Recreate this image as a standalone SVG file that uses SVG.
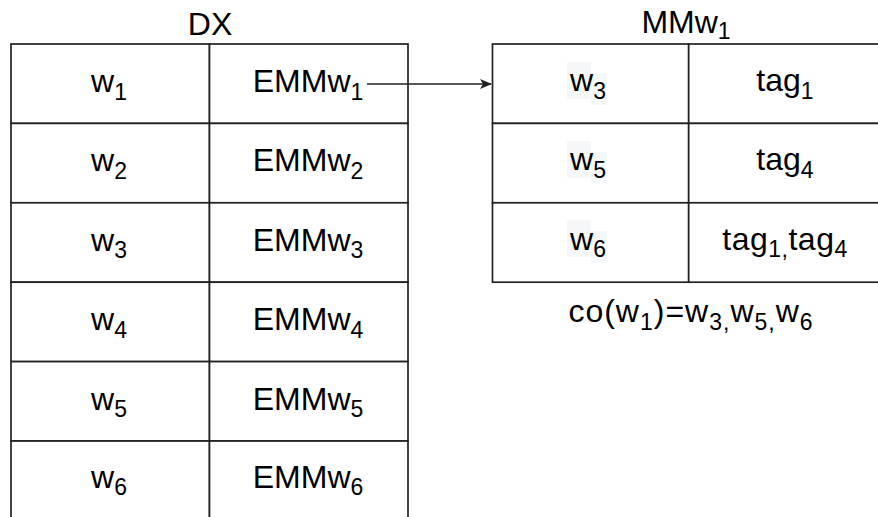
<svg xmlns="http://www.w3.org/2000/svg" width="878" height="517" viewBox="0 0 878 517">
  <defs>
    <style>
      .cell { fill: #ffffff; stroke: #222222; stroke-width: 1.7; }
      .lbl { font-family: "Liberation Sans", Arial, sans-serif; font-size: 32px; fill: #000000; text-anchor: middle; }
      .sub { font-size: 23px; }
      .wide { letter-spacing: 1px; }
      .edge { fill: none; stroke: #222222; stroke-width: 1.3; }
      .hl { fill: #f6f7f8; }
    </style>
    <marker id="arrow" viewBox="0 0 12 10" refX="11" refY="5" markerWidth="12" markerHeight="10" markerUnits="userSpaceOnUse" orient="auto">
      <path d="M0,0 L12,5 L0,10 L3,5 Z" fill="#222222"/>
    </marker>
  </defs>

  <rect width="878" height="517" fill="#ffffff"/>

  <!-- DX table -->
  <g id="dx">
    <text class="lbl" x="210" y="35">DX</text>
    <g id="dx-r1">
      <rect class="cell" x="11" y="44" width="198.5" height="79.4"/>
      <rect class="cell" x="209.5" y="44" width="198.5" height="79.4"/>
      <text class="lbl" x="109" y="92">w<tspan class="sub" dy="7.5">1</tspan></text>
      <text class="lbl" x="308" y="92">EMMw<tspan class="sub" dy="7.5">1</tspan></text>
    </g>
    <g id="dx-r2">
      <rect class="cell" x="11" y="123.4" width="198.5" height="79.4"/>
      <rect class="cell" x="209.5" y="123.4" width="198.5" height="79.4"/>
      <text class="lbl" x="109" y="171.4">w<tspan class="sub" dy="7.5">2</tspan></text>
      <text class="lbl" x="308" y="171.4">EMMw<tspan class="sub" dy="7.5">2</tspan></text>
    </g>
    <g id="dx-r3">
      <rect class="cell" x="11" y="202.8" width="198.5" height="79.4"/>
      <rect class="cell" x="209.5" y="202.8" width="198.5" height="79.4"/>
      <text class="lbl" x="109" y="250.8">w<tspan class="sub" dy="7.5">3</tspan></text>
      <text class="lbl" x="308" y="250.8">EMMw<tspan class="sub" dy="7.5">3</tspan></text>
    </g>
    <g id="dx-r4">
      <rect class="cell" x="11" y="282.2" width="198.5" height="79.4"/>
      <rect class="cell" x="209.5" y="282.2" width="198.5" height="79.4"/>
      <text class="lbl" x="109" y="330.2">w<tspan class="sub" dy="7.5">4</tspan></text>
      <text class="lbl" x="308" y="330.2">EMMw<tspan class="sub" dy="7.5">4</tspan></text>
    </g>
    <g id="dx-r5">
      <rect class="cell" x="11" y="361.6" width="198.5" height="79.4"/>
      <rect class="cell" x="209.5" y="361.6" width="198.5" height="79.4"/>
      <text class="lbl" x="109" y="409.6">w<tspan class="sub" dy="7.5">5</tspan></text>
      <text class="lbl" x="308" y="409.6">EMMw<tspan class="sub" dy="7.5">5</tspan></text>
    </g>
    <g id="dx-r6">
      <rect class="cell" x="11" y="441" width="198.5" height="79.4"/>
      <rect class="cell" x="209.5" y="441" width="198.5" height="79.4"/>
      <text class="lbl" x="109" y="487.5">w<tspan class="sub" dy="7.5">6</tspan></text>
      <text class="lbl" x="308" y="487.5">EMMw<tspan class="sub" dy="7.5">6</tspan></text>
    </g>
  </g>

  <!-- MMw1 table -->
  <g id="mmw1">
    <text class="lbl" x="686" y="32.5">MMw<tspan class="sub" dy="6">1</tspan></text>
    <g id="mm-r1">
      <rect class="cell" x="492.5" y="44" width="196.2" height="79.4"/>
      <rect class="cell" x="688.7" y="44" width="196.3" height="79.4"/>
      <rect class="hl" x="567" y="62" width="24" height="37"/>
      <rect class="hl" x="591" y="73" width="16" height="32"/>
      <text class="lbl" x="588" y="91">w<tspan class="sub" dy="7.5">3</tspan></text>
      <text class="lbl" x="785" y="91">tag<tspan class="sub" dy="7.5">1</tspan></text>
    </g>
    <g id="mm-r2">
      <rect class="cell" x="492.5" y="123.4" width="196.2" height="79.4"/>
      <rect class="cell" x="688.7" y="123.4" width="196.3" height="79.4"/>
      <rect class="hl" x="567" y="141" width="24" height="37"/>
      <rect class="hl" x="591" y="152" width="16" height="32"/>
      <text class="lbl" x="588" y="170.4">w<tspan class="sub" dy="7.5">5</tspan></text>
      <text class="lbl" x="785" y="170.4">tag<tspan class="sub" dy="7.5">4</tspan></text>
    </g>
    <g id="mm-r3">
      <rect class="cell" x="492.5" y="202.8" width="196.2" height="79.4"/>
      <rect class="cell" x="688.7" y="202.8" width="196.3" height="79.4"/>
      <rect class="hl" x="567" y="220" width="24" height="37"/>
      <rect class="hl" x="591" y="231" width="16" height="32"/>
      <text class="lbl" x="588" y="249.8">w<tspan class="sub" dy="7.5">6</tspan></text>
      <text class="lbl" x="785" y="249.8" style="letter-spacing:0.5px">tag<tspan class="sub" dy="7.5">1,</tspan><tspan dy="-7.5">tag</tspan><tspan class="sub" dy="7.5">4</tspan></text>
    </g>
    <text id="co-label" class="lbl wide" x="691" y="322">co(w<tspan class="sub" dy="7.5">1</tspan><tspan dy="-7.5">)=w</tspan><tspan class="sub" dy="7.5">3,</tspan><tspan dy="-7.5">w</tspan><tspan class="sub" dy="7.5">5,</tspan><tspan dy="-7.5">w</tspan><tspan class="sub" dy="7.5">6</tspan></text>
  </g>

  <!-- connectors -->
  <g id="connectors">
    <path class="edge" d="M367,84 L491,84" marker-end="url(#arrow)"/>
  </g>
</svg>
